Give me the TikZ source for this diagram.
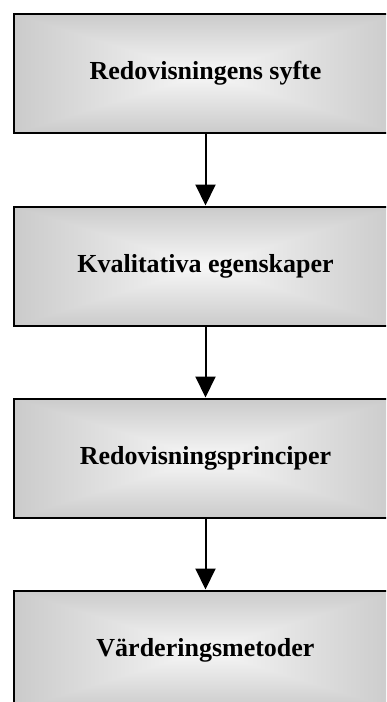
\documentclass[tikz,border=0pt]{standalone}
\usepackage{fontspec}
\setmainfont{Liberation Serif}
\usetikzlibrary{arrows.meta}
\pgfdeclarefunctionalshading{wordrect}{\pgfpoint{-50bp}{-50bp}}{\pgfpoint{50bp}{50bp}}{}{
abs 50 div exch abs 50 div 2 copy sub abs add add 2 div -0.35 mul 0.97 add dup dup
}
\tikzset{
  box/.style={draw=black, line width=2pt, shade, shading=wordrect,
    minimum width=383pt, minimum height=119pt, inner sep=0pt,
    font=\fontsize{26}{30}\selectfont\bfseries},
  flow/.style={line width=2pt, -{Triangle[width=20pt,length=21pt]}}
}
\begin{document}
\begin{tikzpicture}[x=1pt,y=-1pt]
\useasboundingbox (0,0) rectangle (386,702);
\clip (0,0) rectangle (386,702);
\node[box] (b1) at (205.5,73.5) {Redovisningens syfte};
\node[box] (b2) at (205.5,266) {Kvalitativa egenskaper};
\node[box] (b3) at (205.5,458) {Redovisningsprinciper};
\node[box] (b4) at (205.5,650) {Värderingsmetoder};
\draw[flow] (b1.south) -- (b2.north);
\draw[flow] (b2.south) -- (b3.north);
\draw[flow] (b3.south) -- (b4.north);
\end{tikzpicture}
\end{document}
